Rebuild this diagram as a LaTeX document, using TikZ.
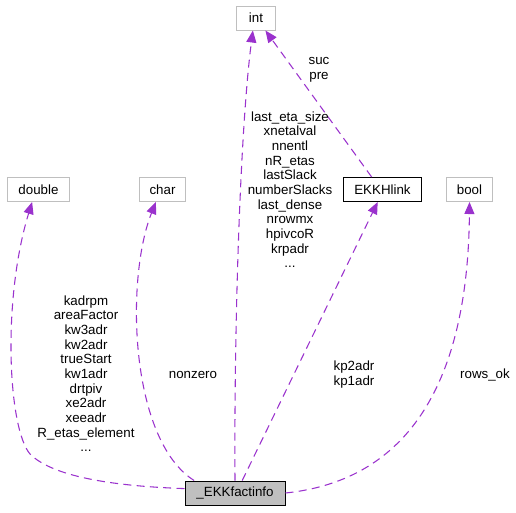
\documentclass[tikz,border=0pt]{standalone}
\usepackage{fontspec}
\setmainfont{Liberation Sans}
\usepackage{xcolor}
\usepackage{tikz}
\usetikzlibrary{arrows.meta, positioning}
\definecolor{membercolor}{RGB}{154, 50, 205}
\definecolor{boxgray}{RGB}{191, 191, 191}

\begin{document}
\begin{tikzpicture}[x=0.75pt, y=-0.75pt,
    font=\fontsize{10}{11}\selectfont,
    cls/.style={draw=boxgray, line width=0.75pt, inner sep=0pt, minimum height=18pt, text centered},
    member/.style={draw=membercolor, line width=0.8pt, dash pattern=on 6pt off 4pt, -{Triangle[length=9pt, width=7.5pt]}},
    lbl/.style={align=center, inner sep=0pt}
]
\useasboundingbox (0,0) rectangle (516,512);

% Classes
\node[cls, minimum width=29pt] (int) at (256, 18) {int};
\node[cls, minimum width=46pt] (double) at (38.5, 189.5) {double};
\node[cls, minimum width=35pt] (char) at (162.5, 189.5) {char};
\node[cls, draw=black, minimum width=59pt] (hlink) at (382.5, 189.5) {EKKHlink};
\node[cls, minimum width=35pt] (bool) at (469.5, 189.5) {bool};
\node[cls, draw=black, fill=boxgray, minimum width=75pt] (factinfo) at (235, 493) {\_EKKfactinfo};

% Members
\draw[member] (factinfo.175) .. controls (110, 486) and (52, 476) .. (30, 454)
    .. controls (8, 428) and (2, 300) .. (double.243);
\draw[member] (factinfo.163) .. controls (130, 440) and (125, 280) .. (char.242);
\draw[member] (factinfo.north) .. controls (234, 330) and (240, 130) .. (int.256);
\draw[member] (factinfo.60) -- (hlink.249);
\draw[member] (factinfo.east) .. controls (410, 480) and (468, 380) .. (bool.south);
\draw[member] (hlink.131) -- (int.307);

% Member names
\node[lbl] (intnames) at (290, 189.5) {last\_eta\_size\\xnetalval\\nnentl\\nR\_etas\\lastSlack\\numberSlacks\\last\_dense\\nrowmx\\hpivcoR\\krpadr\\...};
\node[lbl] (doublenames) at (86, 373.5) {kadrpm\\areaFactor\\kw3adr\\kw2adr\\trueStart\\kw1adr\\drtpiv\\xe2adr\\xeeadr\\R\_etas\_element\\...};
\node[lbl] (charnames) at (193, 375) {nonzero};
\node[lbl] (hlinknames) at (354, 374.5) {kp2adr\\kp1adr};
\node[lbl] (boolnames) at (485, 375) {rows\_ok};
\node[lbl] (linknames) at (319, 69.5) {suc\\pre};

\end{tikzpicture}
\end{document}
